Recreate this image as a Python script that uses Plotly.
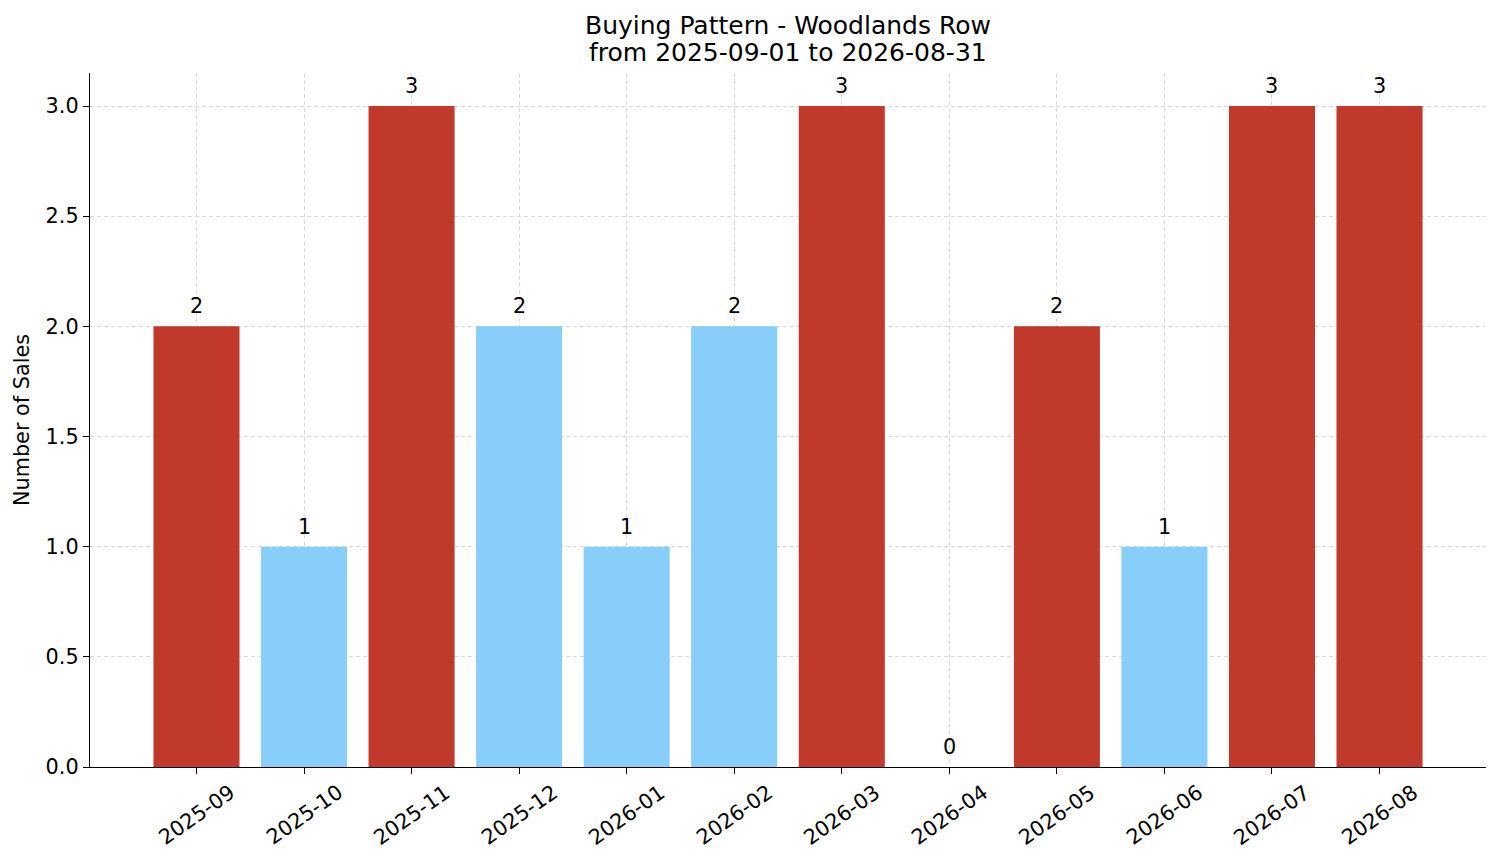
import plotly.graph_objects as go

months = ["2025-09", "2025-10", "2025-11", "2025-12", "2026-01", "2026-02",
          "2026-03", "2026-04", "2026-05", "2026-06", "2026-07", "2026-08"]
sales = [2, 1, 3, 2, 1, 2, 3, 0, 2, 1, 3, 3]
hot = [True, False, True, False, False, False, True, False, True, False, True, True]

RED = "#c0392b"
BLUE = "#87cefa"
colors = [RED if h else BLUE for h in hot]

x = list(range(len(months)))
FS = 20.8

fig = go.Figure()
fig.add_trace(go.Bar(x=x, y=sales, width=0.8, marker_color=colors,
                     marker_line_width=0, showlegend=False))

# value labels above each bar
for i, v in zip(x, sales):
    fig.add_annotation(x=i, y=v, text=str(v), showarrow=False,
                       yanchor="bottom", yshift=6,
                       font=dict(size=FS, color="black"))

# rotated month labels, centred under each tick
for i, m in zip(x, months):
    fig.add_annotation(x=i, y=0, yref="paper", text=m, showarrow=False,
                       textangle=-35, xanchor="center", yanchor="top",
                       yshift=-10, font=dict(size=FS, color="black"))

# two-line title
fig.add_annotation(x=0.5, y=1, xref="paper", yref="paper", showarrow=False,
                   text="from 2025-09-01 to 2026-08-31", yanchor="bottom",
                   yshift=4, font=dict(size=25, color="black"))
fig.add_annotation(x=0.5, y=1, xref="paper", yref="paper", showarrow=False,
                   text="Buying Pattern - Woodlands Row", yanchor="bottom",
                   yshift=31, font=dict(size=25, color="black"))

fig.update_layout(
    width=1501, height=863,
    margin=dict(l=82, r=23, t=65, b=104),
    plot_bgcolor="white", paper_bgcolor="white",
    font=dict(family="DejaVu Sans", size=FS, color="black"),
)
fig.update_xaxes(
    tickmode="array", tickvals=x, showticklabels=False,
    range=[-0.99, 11.99], showline=True, linecolor="black", linewidth=1.3,
    ticks="outside", ticklen=6, tickwidth=1.3, tickcolor="black", zeroline=False,
    showgrid=True, gridcolor="#d9d9d9", griddash="4px,3px", gridwidth=0.8,
    layer="above traces",
)
fig.update_yaxes(
    range=[0, 3.15], tickvals=[0, 0.5, 1, 1.5, 2, 2.5, 3],
    ticktext=["0.0", "0.5", "1.0", "1.5", "2.0", "2.5", "3.0"],
    showline=True, linecolor="black", linewidth=1.3,
    ticks="outside", ticklen=6, tickwidth=1.3, tickcolor="black", zeroline=False,
    showgrid=True, gridcolor="#d9d9d9", griddash="4px,3px", gridwidth=0.8,
    layer="above traces", tickfont=dict(size=FS),
    title=dict(text="Number of Sales", font=dict(size=FS), standoff=10),
)

fig.write_html("out.html")
